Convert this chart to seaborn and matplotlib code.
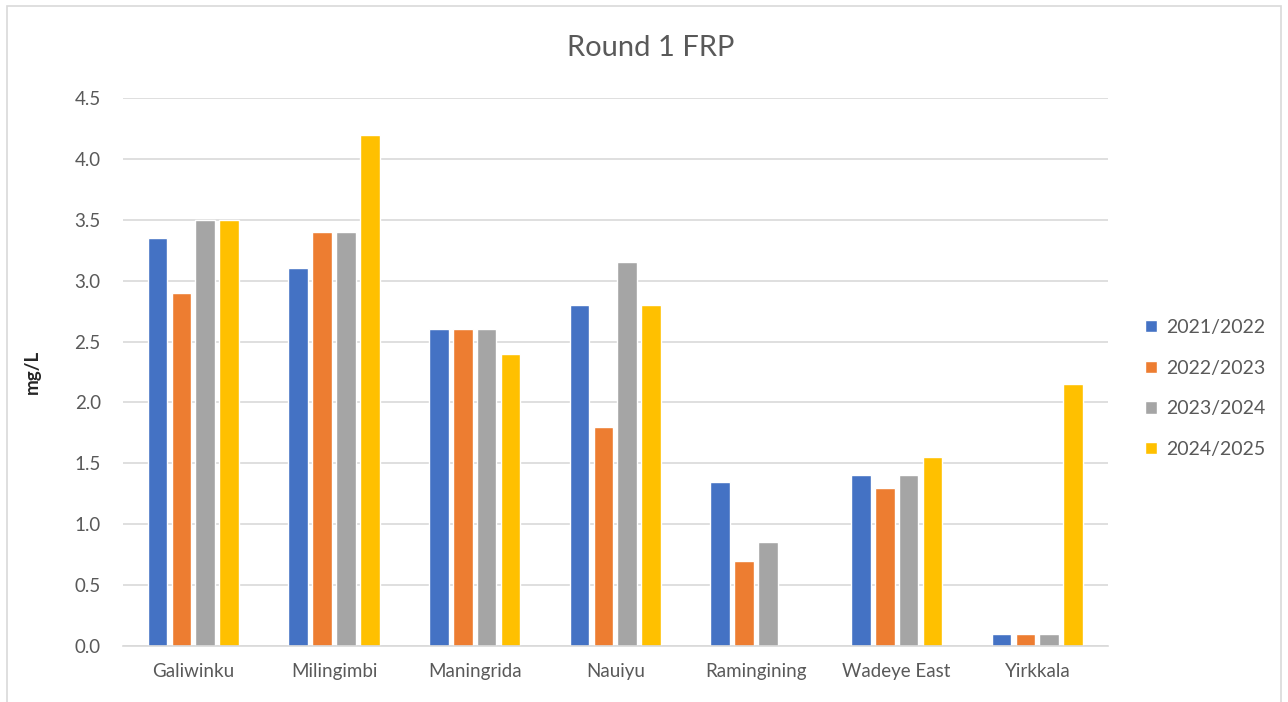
import pandas as pd
import numpy as np
import matplotlib
matplotlib.use('Agg')
import matplotlib.pyplot as plt
from matplotlib.patches import Rectangle
import seaborn as sns

# Chart values
sites = ['Galiwinku', 'Milingimbi', 'Maningrida', 'Nauiyu', 'Ramingining', 'Wadeye East', 'Yirkkala']
seasons = ['2021/2022', '2022/2023', '2023/2024', '2024/2025']
v2122 = [3.35, 3.10, 2.60, 2.80, 1.35, 1.40, 0.10]
v2223 = [2.90, 3.40, 2.60, 1.80, 0.70, 1.30, 0.10]
v2324 = [3.50, 3.40, 2.60, 3.15, 0.85, 1.40, 0.10]
v2425 = [3.50, 4.20, 2.40, 2.80, np.nan, 1.55, 2.15]
colors = ['#4472C4', '#ED7D31', '#A5A5A5', '#FFC000']

df = pd.DataFrame({'site': sites, seasons[0]: v2122, seasons[1]: v2223,
                   seasons[2]: v2324, seasons[3]: v2425})
df = df.melt(id_vars='site', var_name='season', value_name='value')

sns.set_style('white')
plt.rcParams['font.family'] = ['Lato', 'DejaVu Sans']

fig = plt.figure(figsize=(12.88, 7.02), dpi=100)
ax = fig.add_axes([0.0955, 0.0798, 0.7645, 0.7806])

sns.barplot(data=df, x='site', y='value', hue='season', palette=colors,
            width=0.68, gap=0.18, saturation=1, ax=ax, legend=True)

ax.set_ylim(0, 4.5)
ax.set_yticks(np.arange(0, 4.51, 0.5))
ax.set_yticklabels([f'{t:.1f}' for t in np.arange(0, 4.51, 0.5)])
ax.yaxis.grid(True, color='#d9d9d9', linewidth=1.2)
ax.set_axisbelow(True)
for s in ['top', 'left', 'right']:
    ax.spines[s].set_visible(False)
ax.spines['bottom'].set_color('#d9d9d9')
ax.spines['bottom'].set_linewidth(1.2)
ax.tick_params(axis='both', length=0, labelsize=13.5, labelcolor='#595959')
ax.tick_params(axis='y', pad=16)
ax.tick_params(axis='x', pad=12)
ax.set_xlabel('')
ax.set_ylabel('mg/L', fontsize=13.5, color='#262626', fontweight='bold', labelpad=24)

fig.text(0.505, 0.931, 'Round 1 FRP', ha='center', va='center', fontsize=21, color='#595959')

leg = ax.legend(loc='center left', bbox_to_anchor=(1.02, 0.47), frameon=False,
                fontsize=14, handlelength=0.6, handleheight=0.6, handletextpad=0.5,
                labelspacing=1.22, labelcolor='#595959')

fig.patches.append(Rectangle((7 / 1288, -0.02), 1274 / 1288, 1 - 6 / 702 + 0.02,
                             transform=fig.transFigure, fill=False,
                             edgecolor='#d9d9d9', linewidth=1.2))

fig.savefig('out.png', dpi=100)
